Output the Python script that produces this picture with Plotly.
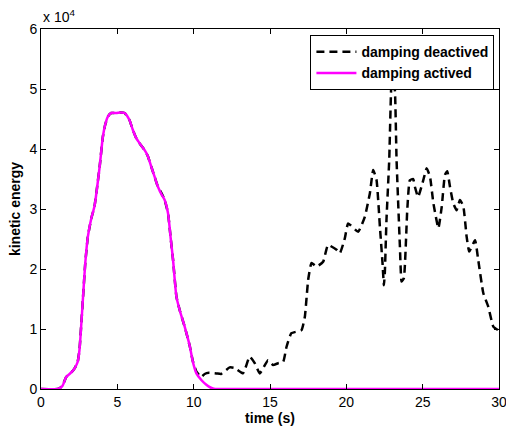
import plotly.graph_objects as go

# damping activated (magenta)
t_act = [0, 1.1, 1.4, 1.65, 2.0, 2.2, 2.4, 2.52, 2.74, 2.9, 3.07, 3.3, 3.5, 3.84, 4.05, 4.2, 4.38, 4.6, 4.93, 5.2, 5.48, 5.8, 6.0, 6.24, 6.5, 6.79, 7.0, 7.23, 7.45, 7.66, 7.9, 8.1, 8.32, 8.5, 8.65, 8.87, 9.1, 9.41, 9.74, 9.95, 10.18, 10.5, 10.83, 11.1, 11.4, 12, 15, 20, 25, 30]
v_act = [0, 0, 500, 2000, 2800, 3450, 4500, 6500, 14800, 21000, 25400, 28500, 30400, 37000, 42000, 44000, 45400, 46000, 46000, 46100, 46000, 44800, 43300, 41800, 40800, 39800, 38800, 37000, 35300, 33700, 32400, 31500, 29300, 25000, 21500, 15400, 13000, 10400, 7200, 4500, 2600, 1500, 700, 250, 0, 0, 0, 0, 0, 0]

# damping deactivated (black dashed)
t_deact = [0, 1.1, 1.4, 1.65, 2.0, 2.2, 2.4, 2.52, 2.74, 2.9, 3.07, 3.3, 3.5, 3.84, 4.05, 4.2, 4.38, 4.6, 4.93, 5.2, 5.48, 5.8, 6.0, 6.24, 6.5, 6.79, 7.0, 7.23, 7.45, 7.66, 7.9, 8.1, 8.32, 8.5, 8.65, 8.87, 9.1, 9.41, 9.74, 9.95, 10.18, 10.5, 10.72, 11.0, 11.49, 11.8, 12.36, 12.69, 13.23, 13.67, 14.0, 14.33, 14.87, 15.2, 15.53, 15.86, 16.08, 16.4, 17.06, 17.28, 17.5, 17.72, 18.05, 18.48, 18.8, 19.36, 19.57, 19.9, 20.12, 20.77, 21.21, 21.54, 21.76, 21.98, 22.2, 22.37, 22.46, 22.52, 22.63, 22.81, 22.96, 23.03, 23.18, 23.29, 23.51, 23.62, 23.77, 23.99, 24.16, 24.38, 24.49, 24.7, 25.04, 25.26, 25.48, 25.7, 26.03, 26.25, 26.46, 26.61, 26.79, 27.0, 27.22, 27.44, 27.66, 27.88, 28.05, 28.43, 28.64, 28.97, 29.3, 29.63, 30]
v_deact = [0, 0, 500, 2000, 2800, 3450, 4500, 6500, 14800, 21000, 25400, 28500, 30400, 37000, 42000, 44000, 45400, 46000, 46000, 46100, 46000, 44800, 43300, 41800, 40800, 39800, 38800, 37000, 35300, 33700, 32600, 31500, 29300, 25000, 21500, 15400, 13000, 10400, 7200, 4600, 2900, 2000, 2500, 2700, 2600, 2500, 3600, 3500, 2600, 5400, 4300, 2600, 4800, 4000, 4300, 4500, 7000, 9300, 9800, 12000, 18200, 21000, 20400, 21200, 24000, 23200, 22600, 25100, 27600, 26200, 28700, 32600, 36500, 34800, 27000, 21000, 17300, 19300, 28200, 38200, 51500, 52300, 49800, 38200, 23700, 17900, 18500, 29800, 34800, 35000, 33700, 32000, 34800, 36800, 35400, 31000, 26800, 30400, 35700, 36300, 33700, 31000, 29800, 31500, 30500, 25400, 22900, 24800, 21500, 16000, 13700, 10400, 9700]

y_tickvals = [0, 10000, 20000, 30000, 40000, 50000, 60000]
y_ticktext = ["0", "1", "2", "3", "4", "5", "6"]
x_tickvals = [0, 5, 10, 15, 20, 25, 30]

FONT = "Arial, Liberation Sans, sans-serif"

fig = go.Figure()
fig.add_trace(go.Scatter(x=t_deact, y=v_deact, mode="lines", name="damping deactived",
                         line=dict(color="black", width=2.5, dash="8px,5px", shape="spline", smoothing=0.4)))
fig.add_trace(go.Scatter(x=t_act, y=v_act, mode="lines", name="damping actived",
                         line=dict(color="#ff00ff", width=2.5, shape="spline", smoothing=0.6)))

axis_common = dict(showline=True, linecolor="black", linewidth=1, mirror="ticks",
                   ticks="inside", ticklen=5, tickcolor="black", showgrid=False,
                   zeroline=False, automargin=False, ticklabeloverflow="allow",
                   tickfont=dict(family=FONT, size=14, color="black"))

fig.update_layout(
    width=506, height=432,
    margin=dict(l=41, r=7, t=29, b=43),
    paper_bgcolor="white", plot_bgcolor="white",
    font=dict(family=FONT, color="black"),
    xaxis=dict(range=[0, 30], tickvals=x_tickvals, **axis_common,
               title=dict(text="<b>time (s)</b>", font=dict(family=FONT, size=14), standoff=3)),
    yaxis=dict(range=[0, 60000], tickvals=y_tickvals, ticktext=y_ticktext, **axis_common,
               title=dict(text="<b>kinetic energy</b>", font=dict(family=FONT, size=14), standoff=5)),
    legend=dict(x=0.99, xanchor="right", y=0.983, yanchor="top", bgcolor="white",
                bordercolor="black", borderwidth=1, font=dict(family=FONT, size=14, weight="bold"),
                tracegroupgap=0, itemwidth=40),
    showlegend=True,
    annotations=[dict(text="x 10<sup>4</sup>", xref="paper", yref="paper", x=0, y=1.0,
                      xanchor="left", yanchor="bottom", showarrow=False, yshift=2,
                      font=dict(family=FONT, size=14, color="black"))],
)

fig.write_html("out.html", config={"displayModeBar": False},
               post_script="document.body.style.margin='0';document.body.style.padding='0';document.body.style.overflow='hidden';")
